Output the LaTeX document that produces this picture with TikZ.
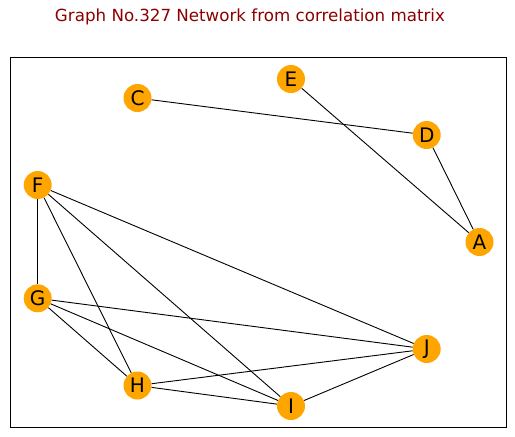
\documentclass[tikz,border=0pt]{standalone}
\usepackage{fontspec}
\setmainfont{DejaVu Sans}
\definecolor{nodeorange}{HTML}{FFA500}
\definecolor{titlered}{HTML}{8B0000}
\begin{document}
\begin{tikzpicture}[x=1pt,y=-1pt,
  vert/.style={circle,fill=nodeorange,inner sep=0pt,minimum size=28pt,font=\fontsize{20}{24}\selectfont},
  edge/.style={draw=black,line width=0.9pt}]
\useasboundingbox (0,0) rectangle (515,437);
\node[text=titlered,font=\fontsize{16.7}{20}\selectfont] (title) at (250,17) {Graph No.327 Network from correlation matrix};
\draw[line width=0.9pt] (10.3,57.3) rectangle (506.7,427);
\node[vert] (C) at (137.5,98) {C};
\node[vert] (E) at (291,79) {E};
\node[vert] (D) at (426.7,135) {D};
\node[vert] (A) at (479.5,242) {A};
\node[vert] (F) at (37.7,185) {F};
\node[vert] (G) at (37.7,298.3) {G};
\node[vert] (H) at (137.5,385.5) {H};
\node[vert] (I) at (291,406) {I};
\node[vert] (J) at (426.7,349) {J};
\begin{scope}[on background layer/.style={}]
\end{scope}
\path[edge] (C) -- (D);
\path[edge] (E) -- (A);
\path[edge] (D) -- (A);
\path[edge] (F) -- (G);
\path[edge] (F) -- (H);
\path[edge] (F) -- (I);
\path[edge] (F) -- (J);
\path[edge] (G) -- (H);
\path[edge] (G) -- (I);
\path[edge] (G) -- (J);
\path[edge] (H) -- (I);
\path[edge] (H) -- (J);
\path[edge] (I) -- (J);
\end{tikzpicture}
\end{document}
